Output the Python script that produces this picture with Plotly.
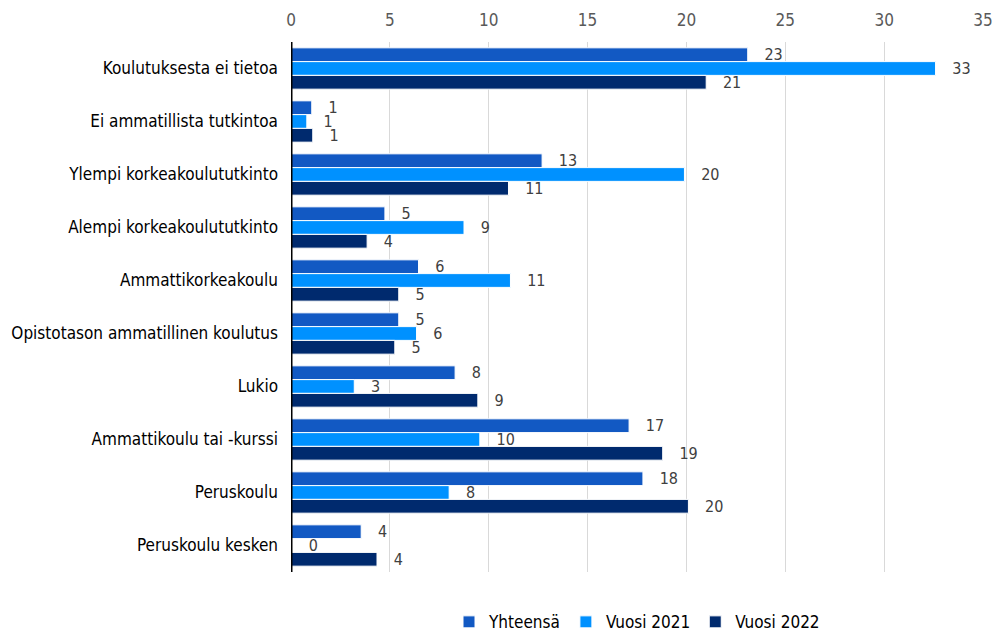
import plotly.graph_objects as go

categories = [
    "Koulutuksesta ei tietoa",
    "Ei ammatillista tutkintoa",
    "Ylempi korkeakoulututkinto",
    "Alempi korkeakoulututkinto",
    "Ammattikorkeakoulu",
    "Opistotason ammatillinen koulutus",
    "Lukio",
    "Ammattikoulu tai -kurssi",
    "Peruskoulu",
    "Peruskoulu kesken",
]
yhteensa = [23.1, 1.05, 12.7, 4.75, 6.45, 5.45, 8.3, 17.1, 17.8, 3.55]
vuosi_2021 = [32.6, 0.8, 19.9, 8.75, 11.1, 6.35, 3.2, 9.55, 8.0, 0.05]
vuosi_2022 = [21.0, 1.1, 11.0, 3.85, 5.45, 5.25, 9.45, 18.8, 20.1, 4.35]
series_names = ["Yhteensä", "Vuosi 2021", "Vuosi 2022"]
colors = ["#1259C3", "#0091FF", "#002A6E"]
tick_vals = [0, 5, 10, 15, 20, 25, 30, 35]

FONT = "DejaVu Sans Condensed, Liberation Sans Narrow, sans-serif"

fig = go.Figure()
for name, vals, col in zip(series_names, [yhteensa, vuosi_2021, vuosi_2022], colors):
    fig.add_trace(go.Bar(
        y=categories, x=vals, name=name, orientation="h",
        marker=dict(color=col, line=dict(color="white", width=1)),
        texttemplate="   %{x:.0f}", textposition="outside",
        textfont=dict(family=FONT, size=16, color="#404040"),
        cliponaxis=False, constraintext="none",
    ))

fig.update_layout(
    width=995, height=635,
    barmode="group", bargap=0.22, bargroupgap=0.0,
    plot_bgcolor="white", paper_bgcolor="white",
    margin=dict(l=291, r=12, t=42, b=63, autoexpand=False),
    font=dict(family=FONT, size=16, color="black"),
    showlegend=True,
    legend=dict(orientation="h", x=0.5, xanchor="center",
                yref="container", y=0.02, yanchor="middle",
                font=dict(family=FONT, size=17, color="black"), traceorder="normal"),
)
fig.update_xaxes(
    side="top", range=[0, 35], tickvals=tick_vals,
    showgrid=True, gridcolor="#D9D9D9", gridwidth=1,
    tickfont=dict(family=FONT, size=17, color="#595959"),
    zeroline=False, showline=False, ticks="", automargin=False,
    ticklabelstandoff=12,
)
fig.update_yaxes(
    autorange="reversed", showgrid=False, ticks="",
    showline=False, zeroline=False, automargin=False,
    tickfont=dict(family=FONT, size=17, color="black"),
    ticklabelstandoff=12,
)
# thick black baseline at x = 0
fig.add_shape(type="line", xref="x", yref="paper", x0=0, x1=0, y0=0, y1=1,
              line=dict(color="black", width=3))

fig.write_html("out.html",
               config={"displayModeBar": False},
               post_script="document.body.style.margin='0px';document.body.style.overflow='hidden';")
